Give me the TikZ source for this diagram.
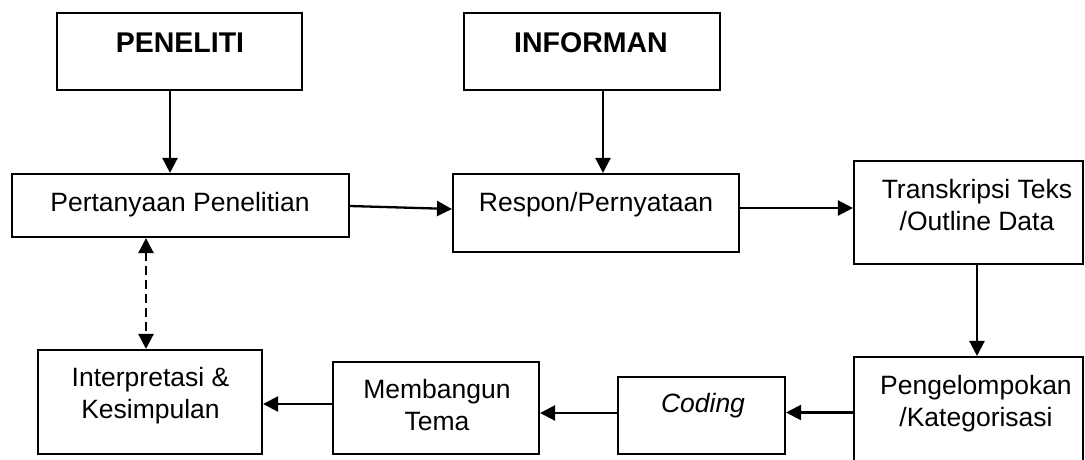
\documentclass[tikz,border=0pt]{standalone}
\usepackage{fontspec}
\setmainfont{Liberation Sans}
\usetikzlibrary{arrows.meta}
\begin{document}
\begin{tikzpicture}[x=1pt,y=-1pt,
  box/.style={draw,line width=2.1pt,inner sep=0pt},
  txt/.style={anchor=base,inner sep=0pt,font=\fontsize{26.5}{32}\selectfont},
  btxt/.style={anchor=base,inner sep=0pt,font=\fontsize{28.5}{34}\selectfont\bfseries},
  arr/.style={line width=2.3pt,-{Triangle[length=15pt,width=15pt]}},
  darr/.style={line width=2.3pt,dash pattern=on 9pt off 5pt,{Triangle[length=15pt,width=15pt]}-{Triangle[length=15pt,width=15pt]}}]
\useasboundingbox (0,0) rectangle (1085,459);
\clip (0,0) rectangle (1085,459);
% boxes
\node[box,minimum width=245pt,minimum height=77pt] (pen) at (179.5,51.5) {};
\node[box,minimum width=256pt,minimum height=77pt] (inf) at (592,51.5) {};
\node[box,minimum width=337pt,minimum height=63pt] (pert) at (180.5,205.5) {};
\node[box,minimum width=286pt,minimum height=78pt] (resp) at (596,213) {};
\node[box,minimum width=229pt,minimum height=103pt] (trans) at (968.5,212.5) {};
\node[box,minimum width=229pt,minimum height=120pt] (peng) at (968.5,417) {};
\node[box,minimum width=167pt,minimum height=77pt] (cod) at (701.5,415.5) {};
\node[box,minimum width=206pt,minimum height=92pt] (memb) at (436,408) {};
\node[box,minimum width=224pt,minimum height=104pt] (interp) at (150,402) {};
% texts
\node[btxt] (tpen) at (180,52) {PENELITI};
\node[btxt] (tinf) at (591,52) {INFORMAN};
\node[txt] (tpert) at (180,211) {Pertanyaan Penelitian};
\node[txt] (tresp) at (596,211) {Respon/Pernyataan};
\node[txt] (ttrans1) at (977,198) {Transkripsi Teks};
\node[txt] (ttrans2) at (977,230) {/Outline Data};
\node[txt] (tpeng1) at (976,394) {Pengelompokan};
\node[txt] (tpeng2) at (976,426) {/Kategorisasi};
\node[txt] (tcod) at (703,412) {\itshape Coding};
\node[txt] (tmemb1) at (437,398) {Membangun};
\node[txt] (tmemb2) at (437,430) {Tema};
\node[txt] (tint1) at (150.5,386) {Interpretasi \&};
\node[txt] (tint2) at (150.5,418) {Kesimpulan};
% connectors
\draw[arr] ([xshift=-9.5pt]pen.south) -- ([xshift=-9.5pt]pen.south |- pert.north);
\draw[arr] ([xshift=11pt]inf.south) -- ([xshift=11pt]inf.south |- resp.north);
\draw[arr] ([yshift=-0.5pt]pert.east) -- ([yshift=4pt]resp.west);
\draw[arr] ([yshift=5pt]resp.east) -- ([yshift=5pt]resp.east -| trans.west);
\draw[arr] ([xshift=8.5pt]trans.south) -- ([xshift=8.5pt]trans.south |- peng.north);
\draw[arr] ([yshift=3pt]peng.west |- cod.east) -- ([yshift=3pt]cod.east);
\draw[arr] ([yshift=2.5pt]cod.west) -- ([yshift=2.5pt]cod.west -| memb.east);
\draw[arr] ([yshift=4pt]memb.west) -- ([yshift=4pt]memb.west -| interp.east);
\draw[darr] ([xshift=-34.5pt]pert.south) -- ([xshift=-34.5pt]pert.south |- interp.north);
\end{tikzpicture}
\end{document}
